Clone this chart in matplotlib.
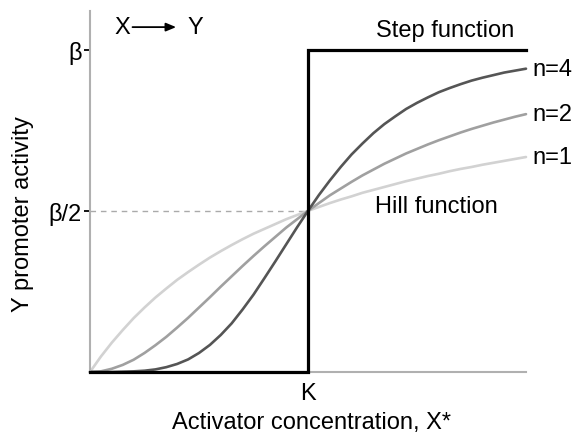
import matplotlib
matplotlib.use("Agg")
import matplotlib.pyplot as plt

plt.rcParams['font.family'] = ['Liberation Sans', 'DejaVu Sans']

# Data (x in units of K, y in units of beta)
x_vals = [0.0, 0.05, 0.1, 0.15, 0.2, 0.25, 0.3, 0.35, 0.4, 0.45, 0.5,
          0.55, 0.6, 0.65, 0.7, 0.75, 0.8, 0.85, 0.9, 0.95, 1.0,
          1.05, 1.1, 1.15, 1.2, 1.25, 1.3, 1.35, 1.4, 1.45, 1.5,
          1.55, 1.6, 1.65, 1.7, 1.75, 1.8, 1.85, 1.9, 1.95, 2.0]
hill_n1 = [0.0, 0.048, 0.091, 0.130, 0.167, 0.200, 0.231, 0.259, 0.286, 0.310, 0.333,
           0.355, 0.375, 0.394, 0.412, 0.429, 0.444, 0.459, 0.474, 0.487, 0.500,
           0.512, 0.524, 0.535, 0.545, 0.556, 0.565, 0.574, 0.583, 0.592, 0.600,
           0.608, 0.615, 0.623, 0.630, 0.636, 0.643, 0.649, 0.655, 0.661, 0.667]
hill_n2 = [0.0, 0.002, 0.010, 0.022, 0.038, 0.059, 0.083, 0.109, 0.138, 0.168, 0.200,
           0.232, 0.265, 0.297, 0.329, 0.360, 0.390, 0.419, 0.448, 0.474, 0.500,
           0.524, 0.548, 0.569, 0.590, 0.610, 0.628, 0.646, 0.662, 0.678, 0.692,
           0.706, 0.719, 0.731, 0.743, 0.754, 0.764, 0.774, 0.783, 0.792, 0.800]
hill_n4 = [0.0, 0.0, 0.0, 0.001, 0.002, 0.004, 0.008, 0.015, 0.025, 0.039, 0.059,
           0.084, 0.115, 0.151, 0.194, 0.240, 0.291, 0.343, 0.396, 0.449, 0.500,
           0.549, 0.594, 0.636, 0.675, 0.709, 0.741, 0.769, 0.793, 0.816, 0.835,
           0.852, 0.868, 0.881, 0.893, 0.904, 0.913, 0.921, 0.929, 0.935, 0.941]
step_x = [0.0, 1.0, 1.0, 2.0]
step_y = [0.0, 0.0, 1.0, 1.0]
curve_labels = ["n=1", "n=2", "n=4"]
ytick_vals = [0.5, 1.0]
ytick_labels = ["β/2", "β"]
xtick_vals = [1.0]
xtick_labels = ["K"]

FS = 17

fig = plt.figure(figsize=(5.74, 4.35), dpi=100)
ax = fig.add_axes([90/574, 62/435, 436/574, 361/435])
ax.set_xlim(0, 2.0)
ax.set_ylim(0, 1.12)

# dashed guide at beta/2
ax.plot([0, 1.0], [0.5, 0.5], color="#aaaaaa", lw=1.0, ls=(0, (4, 3.5)), zorder=1)

colors = ["#d2d2d2", "#a0a0a0", "#555555"]
for ys, c in zip([hill_n1, hill_n2, hill_n4], colors):
    ax.plot(x_vals, ys, color=c, lw=1.9, solid_capstyle="round", clip_on=False, zorder=2)

ax.plot(step_x, step_y, color="black", lw=2.3, solid_joinstyle="miter", clip_on=False, zorder=3)

for lab, ys in zip(curve_labels, [hill_n1, hill_n2, hill_n4]):
    ax.text(x_vals[-1] + 0.03, ys[-1], lab, ha="left", va="center", fontsize=FS)

ax.text(1.63, 1.06, "Step function", ha="center", va="center", fontsize=FS)
ax.text(1.59, 0.515, "Hill function", ha="center", va="center", fontsize=FS)

# X -> Y
ax.text(0.147, 1.07, "X", ha="center", va="center", fontsize=FS)
ax.text(0.482, 1.07, "Y", ha="center", va="center", fontsize=FS)
ax.annotate("", xy=(0.395, 1.07), xytext=(0.195, 1.07),
            arrowprops=dict(arrowstyle="-|>,head_length=0.6,head_width=0.25",
                            color="black", lw=1.3, shrinkA=0, shrinkB=0))

for side in ["top", "right"]:
    ax.spines[side].set_visible(False)
for side in ["left", "bottom"]:
    ax.spines[side].set_color("#b0b0b0")
    ax.spines[side].set_linewidth(1.5)

ax.set_yticks(ytick_vals)
ax.set_yticklabels(ytick_labels, fontsize=FS)
ax.set_xticks(xtick_vals)
ax.set_xticklabels(xtick_labels, fontsize=FS)
ax.tick_params(axis="y", length=4, width=1.3, color="black", pad=2)
ax.tick_params(axis="x", length=0, pad=7)

ax.set_xlabel("Activator concentration, X*", fontsize=FS)
ax.set_ylabel("Y promoter activity", fontsize=FS)
ax.xaxis.set_label_coords(0.509, -0.107)
ax.yaxis.set_label_coords(-0.128, 0.44)

fig.savefig("out.png", dpi=100)
